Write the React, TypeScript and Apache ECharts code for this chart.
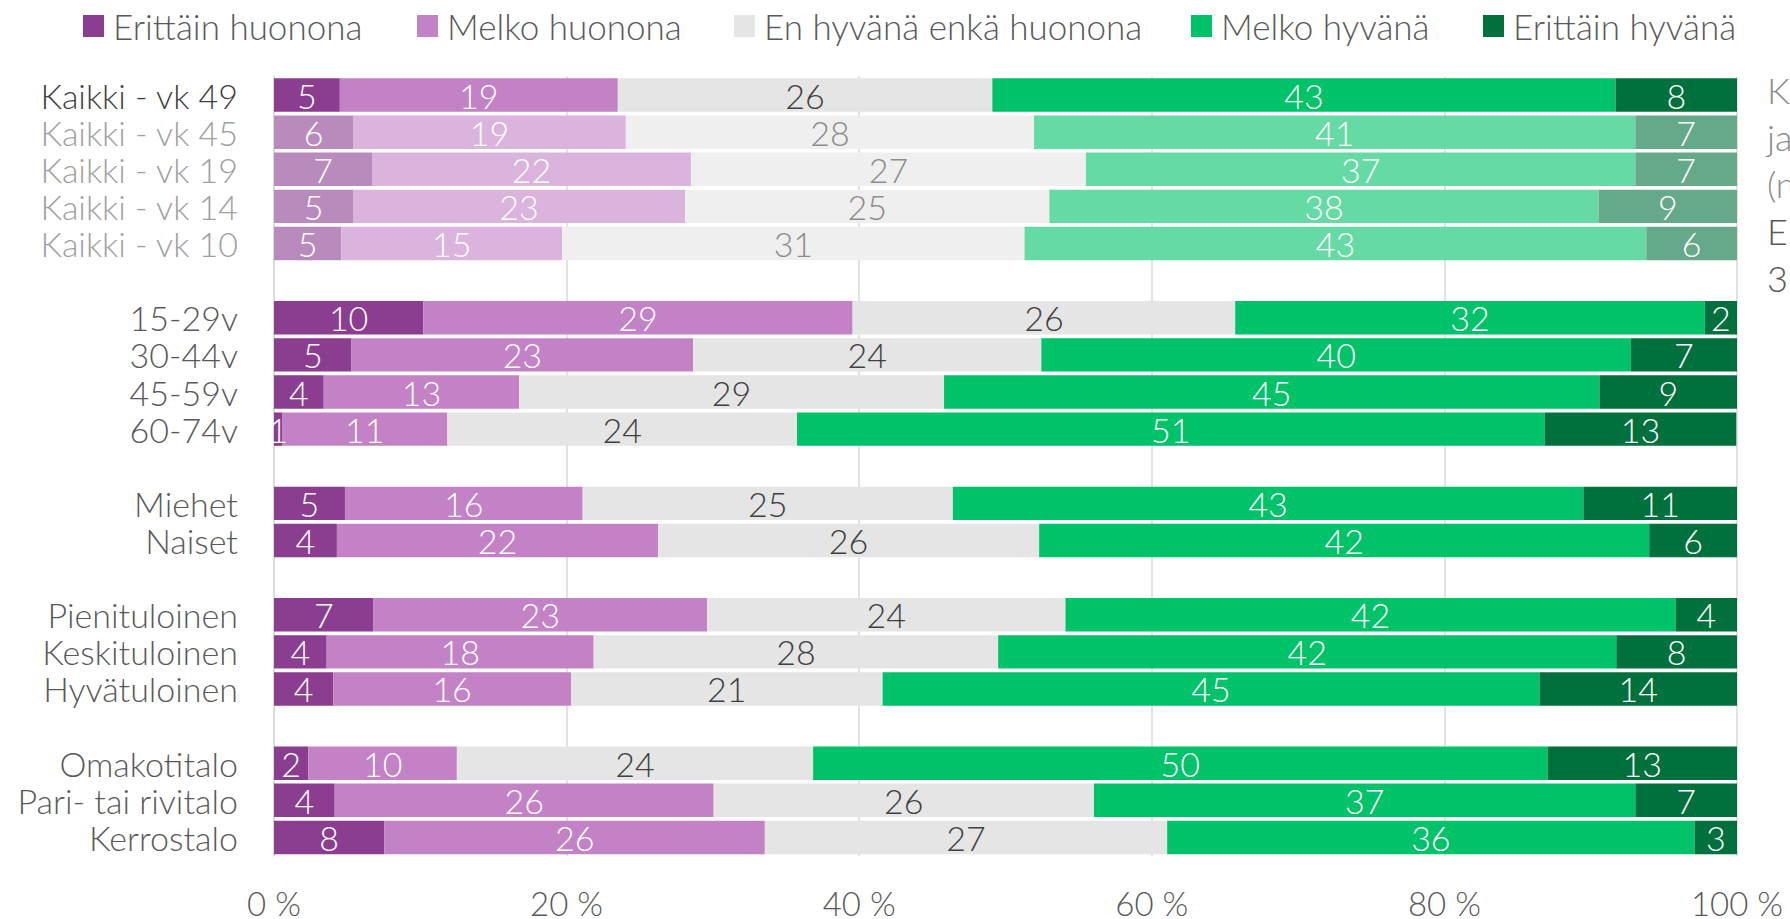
import React, { useEffect, useRef } from "react";
import * as echarts from "echarts";

const categories = [
  "Kaikki - vk 49", "Kaikki - vk 45", "Kaikki - vk 19", "Kaikki - vk 14", "Kaikki - vk 10",
  " ",
  "15-29v", "30-44v", "45-59v", "60-74v",
  "  ",
  "Miehet", "Naiset",
  "   ",
  "Pienituloinen", "Keskituloinen", "Hyvätuloinen",
  "    ",
  "Omakotitalo", "Pari- tai rivitalo", "Kerrostalo",
];
const fadedRows = [1, 2, 3, 4];

const seriesNames = ["Erittäin huonona", "Melko huonona", "En hyvänä enkä huonona", "Melko hyvänä", "Erittäin hyvänä"];

// segment widths (share of 100 %)
const veryBad = [4.5, 5.4, 6.7, 5.4, 4.6, null, 10.2, 5.3, 3.4, 0.55, null, 4.85, 4.3, null, 6.8, 3.6, 4.05, null, 2.35, 4.15, 7.55];
const fairlyBad = [19.0, 18.65, 21.8, 22.7, 15.1, null, 29.35, 23.35, 13.35, 11.3, null, 16.25, 21.95, null, 22.8, 18.25, 16.25, null, 10.15, 25.9, 26.0];
const neutral = [25.6, 27.9, 27.0, 24.9, 31.6, null, 26.15, 23.8, 29.05, 23.9, null, 25.3, 26.05, null, 24.5, 27.65, 21.3, null, 24.35, 26.0, 27.5];
const fairlyGood = [42.6, 41.1, 37.55, 37.55, 42.5, null, 32.1, 40.3, 44.8, 51.1, null, 43.1, 41.7, null, 41.7, 42.25, 44.9, null, 50.2, 37.0, 36.05];
const veryGood = [8.3, 7.0, 6.95, 9.45, 6.25, null, 2.2, 7.25, 9.4, 13.1, null, 10.55, 6.0, null, 4.2, 8.25, 13.5, null, 12.95, 6.95, 2.9];

// printed data labels
const veryBadLbl = [5, 6, 7, 5, 5, null, 10, 5, 4, 1, null, 5, 4, null, 7, 4, 4, null, 2, 4, 8];
const fairlyBadLbl = [19, 19, 22, 23, 15, null, 29, 23, 13, 11, null, 16, 22, null, 23, 18, 16, null, 10, 26, 26];
const neutralLbl = [26, 28, 27, 25, 31, null, 26, 24, 29, 24, null, 25, 26, null, 24, 28, 21, null, 24, 26, 27];
const fairlyGoodLbl = [43, 41, 37, 38, 43, null, 32, 40, 45, 51, null, 43, 42, null, 42, 42, 45, null, 50, 37, 36];
const veryGoodLbl = [8, 7, 7, 9, 6, null, 2, 7, 9, 13, null, 11, 6, null, 4, 8, 14, null, 13, 7, 3];

const xTicks = [0, 20, 40, 60, 80, 100];

const sideNote = ["K", "ja", "(n", "E", "3"];

const baseColors = ["#8b3e8f", "#c382c6", "#e5e5e5", "#00c268", "#00703c"];
const fadedColors = ["#b98bbc", "#dbb4dd", "#efefef", "#66daa4", "#66a98a"];
const FONT = "Lato, 'Open Sans', sans-serif";
const W = 300;

export default function App() {
  const ref = useRef<HTMLDivElement>(null);
  useEffect(() => {
    const chart = echarts.init(ref.current!, null, { renderer: "svg" });
    const values = [veryBad, fairlyBad, neutral, fairlyGood, veryGood];
    const labels = [veryBadLbl, fairlyBadLbl, neutralLbl, fairlyGoodLbl, veryGoodLbl];
    const legendLeft = [78, 412, 729, 1186, 1478];

    const series = seriesNames.map((name, si) => ({
      name,
      type: "bar",
      stack: "total",
      barCategoryGap: "10%",
      itemStyle: { color: baseColors[si] },
      label: {
        show: true,
        position: "inside",
        fontFamily: FONT,
        fontWeight: W,
        fontSize: 34,
        color: si === 2 ? "#404040" : "#ffffff",
        formatter: (p: any) => {
          const l = labels[si][p.dataIndex];
          return l == null ? "" : String(l);
        },
      },
      data: values[si].map((v, i) => {
        const faded = fadedRows.includes(i);
        return {
          value: v,
          itemStyle: { color: faded ? fadedColors[si] : baseColors[si] },
          label: si === 2 && faded ? { color: "#8c8c8c" } : undefined,
        };
      }),
    }));

    const legends = seriesNames.map((name, i) => ({
      data: [name],
      left: legendLeft[i],
      top: 0,
      icon: "rect",
      itemWidth: 21,
      itemHeight: 22,
      itemGap: 0,
      selectedMode: false,
      textStyle: { fontFamily: FONT, fontWeight: W, fontSize: 35, color: "#595959", lineHeight: 42, padding: [0, 0, 0, 4] },
    }));

    chart.setOption({
      animation: false,
      backgroundColor: "#ffffff",
      legend: legends,
      grid: { left: 274, right: 53, top: 76.5, bottom: 62, containLabel: false },
      xAxis: {
        type: "value",
        min: 0,
        max: 100,
        interval: 20,
        axisLine: { show: false },
        axisTick: { show: false },
        splitLine: { show: true, lineStyle: { color: "#d9d9d9", width: 1.5 } },
        axisLabel: {
          margin: 30,
          fontFamily: FONT,
          fontWeight: W,
          fontSize: 33,
          color: "#595959",
          formatter: (v: number) => (xTicks.includes(v) ? `${v} %` : ""),
        },
      },
      yAxis: {
        type: "category",
        inverse: true,
        data: categories,
        axisLine: { show: true, lineStyle: { color: "#d9d9d9", width: 1.5 } },
        axisTick: { show: false },
        axisLabel: {
          interval: 0,
          margin: 36,
          fontFamily: FONT,
          fontWeight: W,
          fontSize: 34,
          color: "#595959",
          formatter: (v: string, i: number) => {
            if (i === 0) return `{first|${v}}`;
            if (fadedRows.includes(i)) return `{faded|${v}}`;
            return v;
          },
          rich: {
            first: { fontFamily: FONT, fontWeight: W, fontSize: 34, color: "#404040" },
            faded: { fontFamily: FONT, fontWeight: W, fontSize: 34, color: "#a0a0a0" },
          },
        },
      },
      graphic: sideNote.map((t, i) => ({
        type: "text",
        left: 1767,
        top: 72 + i * 47,
        style: {
          text: t,
          fontFamily: FONT,
          fontWeight: W,
          fontSize: 36,
          fill: i < 3 ? "#8c8c8c" : "#595959",
        },
      })),
      series,
    });
    return () => chart.dispose();
  }, []);
  return (
    <div
      ref={ref}
      style={{ position: "fixed", left: 0, top: 0, width: 1790, height: 919, overflow: "hidden" }}
    />
  );
}
